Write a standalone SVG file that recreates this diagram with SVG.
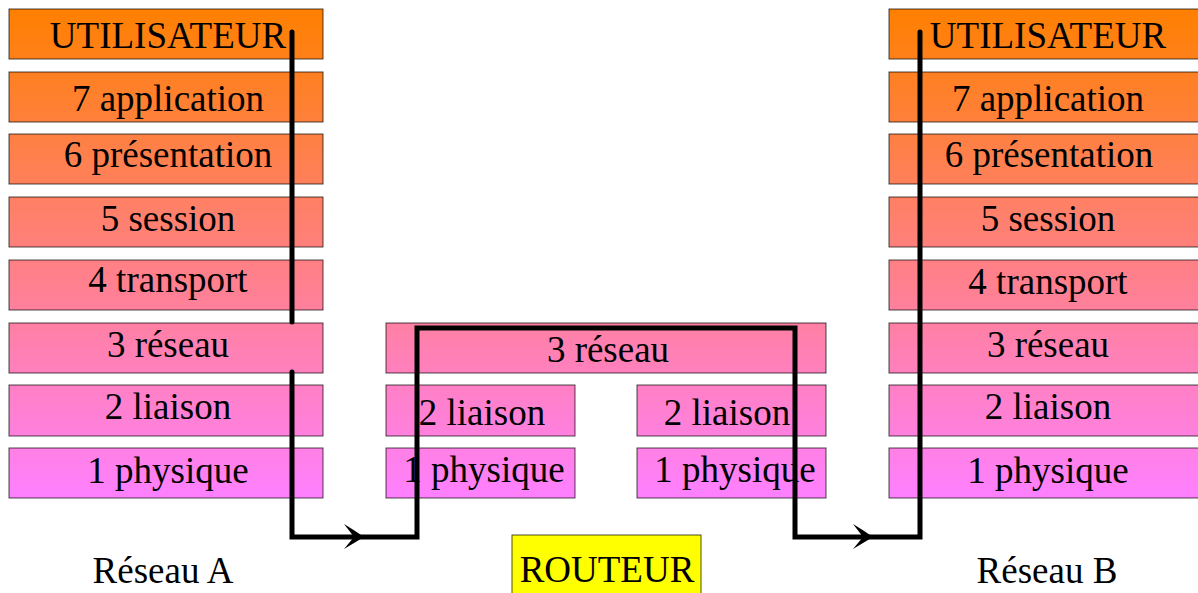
<svg xmlns="http://www.w3.org/2000/svg" width="1198" height="593" viewBox="0 0 1198 593">
<style>
.b{fill:url(#g);stroke:#000;stroke-opacity:0.7;stroke-width:1}
.t{font-size:37px;fill:#000;text-anchor:middle}
.c{fill:none;stroke:#000;stroke-width:5;stroke-linecap:round;stroke-linejoin:miter}
.a{fill:#000;stroke:none}
</style>
<defs>
<linearGradient id="g" gradientUnits="userSpaceOnUse" x1="0" y1="9" x2="0" y2="498">
<stop offset="0" stop-color="#FF8000"/>
<stop offset="1" stop-color="#FF80FF"/>
</linearGradient>
</defs>
<rect width="1198" height="593" fill="#fff"/>
<g font-family="'Liberation Serif', 'Times New Roman', Times, serif">
<g id="stackA">
<g id="a-user"><rect class="b" x="9" y="9" width="314" height="50"/><text class="t" x="168" y="48">UTILISATEUR</text></g>
<g id="a-7"><rect class="b" x="9" y="72" width="314" height="50"/><text class="t" x="168" y="111">7 application</text></g>
<g id="a-6"><rect class="b" x="9" y="134" width="314" height="50"/><text class="t" x="168" y="167">6 présentation</text></g>
<g id="a-5"><rect class="b" x="9" y="197" width="314" height="50"/><text class="t" x="168" y="231">5 session</text></g>
<g id="a-4"><rect class="b" x="9" y="260" width="314" height="50"/><text class="t" x="168" y="292">4 transport</text></g>
<g id="a-3"><rect class="b" x="9" y="323" width="314" height="50"/><text class="t" x="168" y="357">3 réseau</text></g>
<g id="a-2"><rect class="b" x="9" y="385" width="314" height="51"/><text class="t" x="168" y="419">2 liaison</text></g>
<g id="a-1"><rect class="b" x="9" y="448" width="314" height="50"/><text class="t" x="168" y="483">1 physique</text></g>
</g>
<g id="router">
<g id="r-3"><rect class="b" x="386" y="323" width="440" height="50"/><text class="t" x="608" y="362">3 réseau</text></g>
<g id="r-2a"><rect class="b" x="386" y="385" width="189" height="51"/><text class="t" x="482" y="425">2 liaison</text></g>
<g id="r-2b"><rect class="b" x="637" y="385" width="189" height="51"/><text class="t" x="727" y="425">2 liaison</text></g>
<g id="r-1a"><rect class="b" x="386" y="448" width="189" height="50"/><text class="t" x="484" y="482">1 physique</text></g>
<g id="r-1b"><rect class="b" x="637" y="448" width="189" height="50"/><text class="t" x="735" y="482">1 physique</text></g>
</g>
<g id="stackB">
<g id="b-user"><rect class="b" x="889" y="9" width="314" height="50"/><text class="t" x="1048" y="48">UTILISATEUR</text></g>
<g id="b-7"><rect class="b" x="889" y="72" width="314" height="50"/><text class="t" x="1048" y="111">7 application</text></g>
<g id="b-6"><rect class="b" x="889" y="134" width="314" height="50"/><text class="t" x="1049" y="167">6 présentation</text></g>
<g id="b-5"><rect class="b" x="889" y="197" width="314" height="50"/><text class="t" x="1048" y="231">5 session</text></g>
<g id="b-4"><rect class="b" x="889" y="260" width="314" height="50"/><text class="t" x="1048" y="294">4 transport</text></g>
<g id="b-3"><rect class="b" x="889" y="323" width="314" height="50"/><text class="t" x="1048" y="357">3 réseau</text></g>
<g id="b-2"><rect class="b" x="889" y="385" width="314" height="51"/><text class="t" x="1048" y="419">2 liaison</text></g>
<g id="b-1"><rect class="b" x="889" y="448" width="314" height="50"/><text class="t" x="1048" y="483">1 physique</text></g>
</g>
<g id="routeur-label"><rect x="512" y="535" width="189" height="62" fill="#FFFF00" stroke="#000" stroke-opacity="0.7" stroke-width="1"/><text class="t" x="607" y="582">ROUTEUR</text></g>
<g id="label-a"><text class="t" x="163" y="583">Réseau A</text></g>
<g id="label-b"><text class="t" x="1047" y="583">Réseau B</text></g>
</g>
<g id="connectors">
<path class="c" d="M292 32 V322"/>
<path class="c" d="M292 372 V537 H417 V328 H795 V537 H920 V32"/>
<path class="a" d="M364 537 Q354 530 344 524 L354 537 L344 549 Q354 543 364 537 Z"/>
<path class="a" d="M873 537 Q863 530 853 524 L863 537 L853 549 Q863 543 873 537 Z"/>
</g>
</svg>
